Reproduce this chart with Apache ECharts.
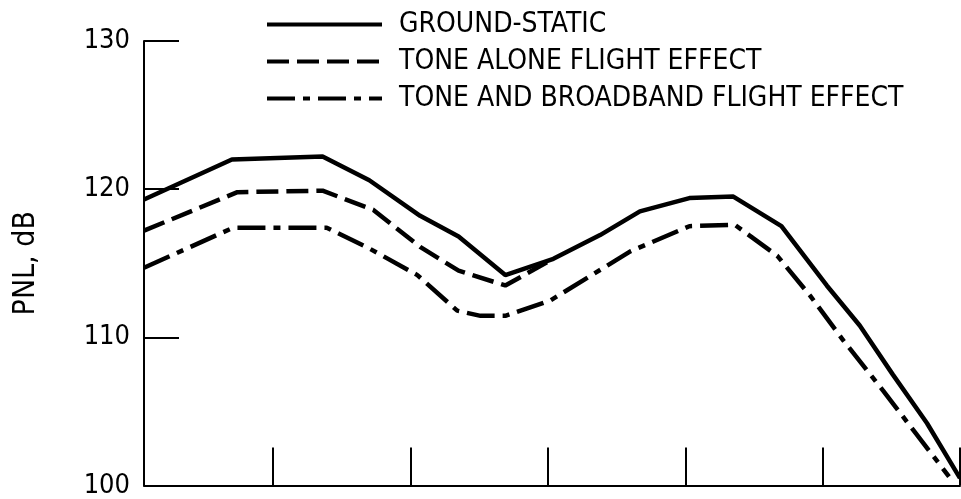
<!DOCTYPE html>
<html>
<head>
<meta charset="utf-8">
<script src="https://cdn.jsdelivr.net/npm/echarts@6/dist/echarts.min.js"></script>
<style>
html,body{margin:0;padding:0;background:#fff;}
#chart{width:961px;height:499px;}
</style>
</head>
<body>
<div id="chart"></div>
<script>
// Data (x in tick-interval units; y in PNL, dB)
var seriesNames = ['GROUND-STATIC', 'TONE ALONE FLIGHT EFFECT', 'TONE AND BROADBAND FLIGHT EFFECT'];
var yTicks = [100, 110, 120, 130];
var xTickPositions = [1, 2, 3, 4, 5, 6];

var groundStatic = [
  [0.06, 119.3], [0.70, 122.0], [1.36, 122.2], [1.70, 120.6], [2.07, 118.2],
  [2.35, 116.8], [2.69, 114.2], [3.04, 115.3], [3.38, 116.9], [3.67, 118.5],
  [4.03, 119.4], [4.35, 119.5], [4.70, 117.5], [5.03, 113.5], [5.27, 110.8],
  [5.51, 107.5], [5.76, 104.2], [6.00, 100.5]
];
var toneAlone = [
  [0.06, 117.2], [0.74, 119.8], [1.36, 119.9], [1.73, 118.6], [2.07, 116.1],
  [2.35, 114.5], [2.69, 113.5], [3.04, 115.3]
];
var toneBroadband = [
  [0.06, 114.7], [0.71, 117.4], [1.39, 117.4], [1.70, 116.0], [2.05, 114.2],
  [2.34, 111.8], [2.51, 111.45], [2.69, 111.45], [3.02, 112.5], [3.60, 115.8],
  [4.03, 117.5], [4.36, 117.6], [4.67, 115.5], [4.91, 112.8], [5.15, 109.8],
  [5.44, 106.4], [5.68, 103.5], [5.92, 100.6]
];

var chart = echarts.init(document.getElementById('chart'));
var narrow = '"DejaVu Sans Condensed", "DejaVu Sans", sans-serif';
chart.setOption({
  backgroundColor: '#fff',
  animation: false,
  grid: {left: 144, right: 1, top: 41, bottom: 10, containLabel: false},
  legend: {
    orient: 'vertical',
    left: 265,
    top: 6,
    padding: 0,
    itemGap: 0,
    itemWidth: 115,
    itemHeight: 20,
    data: seriesNames,
    itemStyle: {color: 'rgba(0,0,0,0)', borderColor: 'rgba(0,0,0,0)', borderWidth: 0},
    lineStyle: {width: 4, color: '#000'},
    textStyle: {
      fontFamily: narrow, fontSize: 28, color: '#000',
      lineHeight: 37, padding: [0, 0, 0, 12]
    }
  },
  xAxis: {
    type: 'value',
    min: 0.06,
    max: 6,
    axisLine: {show: true, onZero: false, lineStyle: {color: '#000', width: 2}},
    axisTick: {show: true, inside: true, length: 38, customValues: xTickPositions,
      lineStyle: {color: '#000', width: 2}},
    axisLabel: {show: false},
    splitLine: {show: false}
  },
  yAxis: {
    type: 'value',
    min: yTicks[0],
    max: yTicks[yTicks.length - 1],
    interval: 10,
    name: 'PNL, dB',
    nameLocation: 'middle',
    nameGap: 103,
    nameTextStyle: {fontFamily: narrow, fontSize: 30, color: '#000'},
    axisLine: {show: true, lineStyle: {color: '#000', width: 2}},
    axisTick: {show: true, inside: true, length: 35, lineStyle: {color: '#000', width: 2}},
    axisLabel: {fontFamily: narrow, fontSize: 27, color: '#000', margin: 14},
    splitLine: {show: false}
  },
  series: [
    {name: seriesNames[0], type: 'line', data: groundStatic, symbol: 'none',
      lineStyle: {color: '#000', width: 4.5, type: 'solid'}, itemStyle: {color: '#000'}},
    {name: seriesNames[1], type: 'line', data: toneAlone, symbol: 'none',
      lineStyle: {color: '#000', width: 4.5, type: [22, 8]}, itemStyle: {color: '#000'}},
    {name: seriesNames[2], type: 'line', data: toneBroadband, symbol: 'none',
      lineStyle: {color: '#000', width: 4.5, type: [28, 8, 7, 8]}, itemStyle: {color: '#000'}}
  ]
});
</script>
</body>
</html>
